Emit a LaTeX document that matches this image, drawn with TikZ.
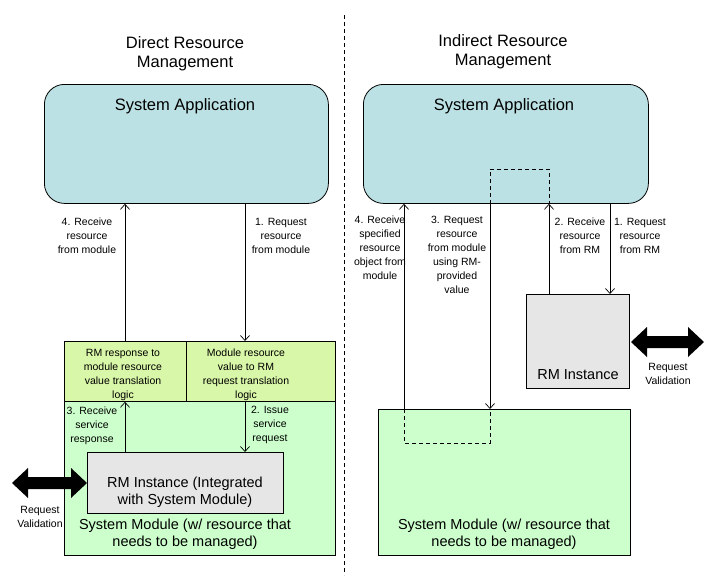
\documentclass[tikz,border=0pt]{standalone}
\usepackage{fontspec}
\setmainfont{Liberation Sans}
\usetikzlibrary{arrows.meta}
\definecolor{appfill}{HTML}{BCE1E4}
\definecolor{modfill}{HTML}{CCFFCC}
\definecolor{cellfill}{HTML}{D9F7A8}
\definecolor{rmfill}{HTML}{E6E6E6}
\tikzset{
  box/.style={draw, inner sep=0pt, anchor=north west, line width=0.8pt},
  lbl/.style={align=center, inner sep=0pt, font=\fontsize{10.5}{14}\selectfont},
  big/.style={align=center, inner sep=0pt, font=\fontsize{16.5}{19}\selectfont},
  mid/.style={align=center, inner sep=0pt, font=\fontsize{14.5}{17}\selectfont},
  arr/.style={line width=0.7pt, -{Straight Barb[length=5pt,width=9pt]}},
  dsh/.style={line width=0.7pt, dash pattern=on 4pt off 3pt},
  blockarrow/.style={fill=black}
}
\begin{document}
\begin{tikzpicture}[x=1pt,y=-1pt]
\useasboundingbox (0,0) rectangle (716,579);
% divider
\coordinate (dtop) at (344,15);
\coordinate (dbot) at (344,575);
\draw[dsh] (dtop) -- (dbot);
% titles
\node[big] (tl) at (185,54) {Direct Resource\\Management};
\node[big] (tr) at (503,52) {Indirect Resource\\Management};
% system applications
\node[box, fill=appfill, rounded corners=20pt, minimum width=284pt, minimum height=119pt] (lapp) at (44,84) {};
\node[box, fill=appfill, rounded corners=20pt, minimum width=285pt, minimum height=119pt] (rapp) at (363,84) {};
\node[big] (lappt) at (185,106) {System Application};
\node[big] (rappt) at (504,106) {System Application};
% left module
\node[box, fill=modfill, minimum width=271pt, minimum height=214pt] (lmod) at (64,341) {};
\node[box, fill=cellfill, minimum width=122pt, minimum height=60pt] (cellL) at (64,341) {};
\node[box, fill=cellfill, minimum width=149pt, minimum height=60pt] (cellR) at (186,341) {};
\node[box, fill=rmfill, minimum width=196pt, minimum height=61pt] (lrm) at (87,452) {};
\node[lbl] (cellLt) at (123,375) {RM response to\\module resource\\value translation\\logic};
\node[lbl] (cellRt) at (246,375) {Module resource\\value to RM\\request translation\\logic};
\node[mid] (lrmt) at (185,492) {RM Instance (Integrated\\with System Module)};
\node[mid] (lmodt) at (185,534) {System Module (w/ resource that\\needs to be managed)};
% left connectors
\coordinate (xa) at (125,0);
\coordinate (xb) at (245,0);
\draw[arr] (cellL.north -| xa) -- (lapp.south -| xa);
\draw[arr] (lapp.south -| xb) -- (cellR.north -| xb);
\draw[arr] (lrm.north -| xa) -- (cellL.south -| xa);
\draw[arr] (cellR.south -| xb) -- (lrm.north -| xb);
\node[lbl] (l4) at (87,236) {4. Receive\\resource\\from module};
\node[lbl] (l1) at (281,236) {1. Request\\resource\\from module};
\node[lbl] (l3) at (92,426) {3. Receive\\service\\response};
\node[lbl] (l2) at (270,425) {2. Issue\\service\\request};
% left block arrow
\fill[blockarrow] (12,483) -- (28,468) -- (28,477) -- (71,477) -- (71,468) -- (87,483)
  -- (71,498) -- (71,489) -- (28,489) -- (28,498) -- cycle;
\node[lbl] (lrv) at (40,517) {Request\\Validation};
% right module and RM
\node[box, fill=modfill, minimum width=252pt, minimum height=146pt] (rmod) at (378,409) {};
\node[box, fill=rmfill, minimum width=103pt, minimum height=94pt] (rrm) at (526,294) {};
\node[mid] (rrmt) at (578,375) {RM Instance};
\node[mid] (rmodt) at (504,534) {System Module (w/ resource that\\needs to be managed)};
% right connectors
\coordinate (xc) at (404,0);
\coordinate (xd) at (490,0);
\coordinate (xe) at (549,0);
\coordinate (xf) at (610,0);
\coordinate (yin) at (0,443);
\coordinate (yup) at (0,169);
\draw[arr] (rmod.north -| xc) -- (rapp.south -| xc);
\draw[arr] (rapp.south -| xd) -- (rmod.north -| xd);
\draw[arr] (rrm.north -| xe) -- (rapp.south -| xe);
\draw[arr] (rapp.south -| xf) -- (rrm.north -| xf);
\draw[dsh] (rmod.north -| xc) -- (yin -| xc) -- (yin -| xd) -- (rmod.north -| xd);
\draw[dsh] (rapp.south -| xd) -- (yup -| xd) -- (yup -| xe) -- (rapp.south -| xe);
\node[lbl] (r4) at (380,248) {4. Receive\\specified\\resource\\object from\\module};
\node[lbl] (r3) at (457,255) {3. Request\\resource\\from module\\using RM-\\provided\\value};
\node[lbl] (r2) at (580,236) {2. Receive\\resource\\from RM};
\node[lbl] (r1) at (640,236) {1. Request\\resource\\from RM};
% right block arrow
\fill[blockarrow] (631,342) -- (647,327) -- (647,336) -- (688,336) -- (688,327) -- (704,342)
  -- (688,357) -- (688,348) -- (647,348) -- (647,357) -- cycle;
\node[lbl] (rrv) at (668,374) {Request\\Validation};
\end{tikzpicture}
\end{document}
